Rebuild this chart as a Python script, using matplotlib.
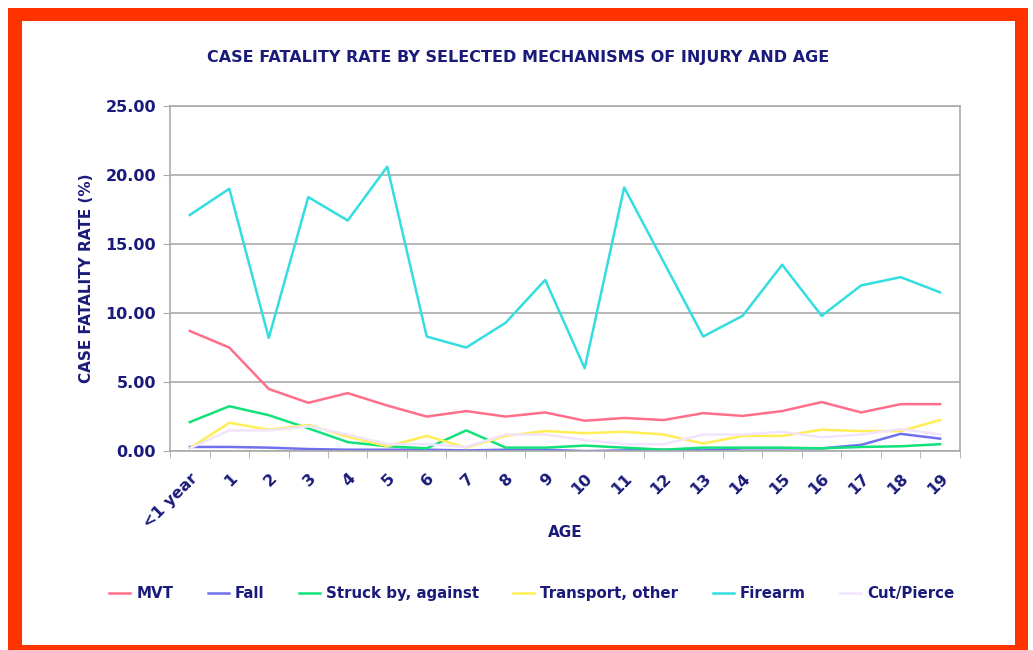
import numpy as np
import matplotlib.pyplot as plt
from matplotlib.patches import Rectangle

# Data
ages = ['<1 year'] + [str(i) for i in range(1, 20)]
mvt = [8.7, 7.5, 4.5, 3.5, 4.2, 3.3, 2.5, 2.9, 2.5, 2.8,
       2.2, 2.4, 2.25, 2.75, 2.55, 2.9, 3.55, 2.8, 3.4, 3.4]
fall = [0.3, 0.3, 0.25, 0.15, 0.1, 0.1, 0.1, 0.05, 0.1, 0.1,
        0.0, 0.05, 0.1, 0.05, 0.2, 0.2, 0.2, 0.45, 1.25, 0.9]
struck = [2.1, 3.25, 2.6, 1.65, 0.65, 0.35, 0.2, 1.5, 0.25, 0.25,
          0.4, 0.25, 0.1, 0.25, 0.25, 0.25, 0.2, 0.3, 0.35, 0.5]
transport = [0.2, 2.05, 1.55, 1.9, 1.05, 0.35, 1.1, 0.25, 1.1, 1.45,
             1.3, 1.4, 1.2, 0.55, 1.1, 1.1, 1.55, 1.45, 1.45, 2.25]
firearm = [17.1, 19.0, 8.2, 18.4, 16.7, 20.6, 8.3, 7.5, 9.3, 12.4,
           6.0, 19.1, 13.7, 8.3, 9.8, 13.5, 9.8, 12.0, 12.6, 11.5]
cut_pierce = [0.2, 1.5, 1.5, 1.8, 1.2, 0.5, 0.5, 0.3, 1.2, 1.2,
              0.8, 0.5, 0.5, 1.2, 1.2, 1.4, 1.0, 1.2, 1.6, 1.2]

series = [
    ('MVT', mvt, '#ff6f8a'),
    ('Fall', fall, '#7070ee'),
    ('Struck by, against', struck, '#11e27a'),
    ('Transport, other', transport, '#ffee55'),
    ('Firearm', firearm, '#33dde0'),
    ('Cut/Pierce', cut_pierce, '#f2e4ff'),
]

navy = '#1a1a7a'
W, H = 1033, 650
fig = plt.figure(figsize=(W / 100, H / 100), dpi=100)

# red frame (pixel boxes: x0, y0 from top, width, height)
red = '#ff3300'
for x0, y0, w, h in [(8, 8, 14, 642), (8, 8, 1020, 13),
                     (1015, 8, 13, 642), (8, 645, 1020, 5)]:
    fig.patches.append(Rectangle((x0 / W, 1 - (y0 + h) / H), w / W, h / H,
                                 transform=fig.transFigure, facecolor=red,
                                 edgecolor='none'))

ax = fig.add_axes([0.1646, 0.306, 0.7646, 0.531])
x = np.arange(len(ages))
for name, vals, col in series:
    ax.plot(x, vals, color=col, linewidth=1.8, label=name)

ax.set_xlim(-0.5, len(ages) - 0.5)
ax.set_ylim(0, 25)
ax.set_yticks(np.arange(0, 26, 5))
ax.set_yticklabels([f'{v:.2f}' for v in np.arange(0, 26, 5)])
ax.yaxis.grid(True, color='#aaaaaa', linewidth=1.2)
ax.set_axisbelow(True)
for s in ax.spines.values():
    s.set_color('#aaaaaa')
    s.set_linewidth(1.2)

ax.set_xticks(x)
ax.set_xticklabels(ages, rotation=45, ha='right', rotation_mode='anchor')
ax.set_xticks(np.arange(-0.5, len(ages), 1), minor=True)
ax.tick_params(axis='x', which='major', length=0, pad=14)
ax.tick_params(axis='x', which='minor', length=5, color='#aaaaaa')
ax.tick_params(axis='y', length=5, color='#aaaaaa', pad=5)
for lab in ax.get_xticklabels() + ax.get_yticklabels():
    lab.set_color(navy)
    lab.set_fontweight('bold')
    lab.set_fontsize(11.5)

ax.set_ylabel('CASE FATALITY RATE (%)', color=navy, fontweight='bold',
              fontsize=11, labelpad=8)
ax.set_xlabel('AGE', color=navy, fontweight='bold', fontsize=11, labelpad=-4)
fig.text(0.502, 0.912, 'CASE FATALITY RATE BY SELECTED MECHANISMS OF INJURY AND AGE',
         ha='center', va='center', color=navy, fontweight='bold', fontsize=11.5)

leg = fig.legend(loc='center', bbox_to_anchor=(0.515, 0.087), ncol=6,
                 frameon=False, handlelength=1.4, handletextpad=0.4,
                 columnspacing=2.3, fontsize=10.8)
for t in leg.get_texts():
    t.set_color(navy)
    t.set_fontweight('bold')

fig.savefig('out.png', dpi=100)
